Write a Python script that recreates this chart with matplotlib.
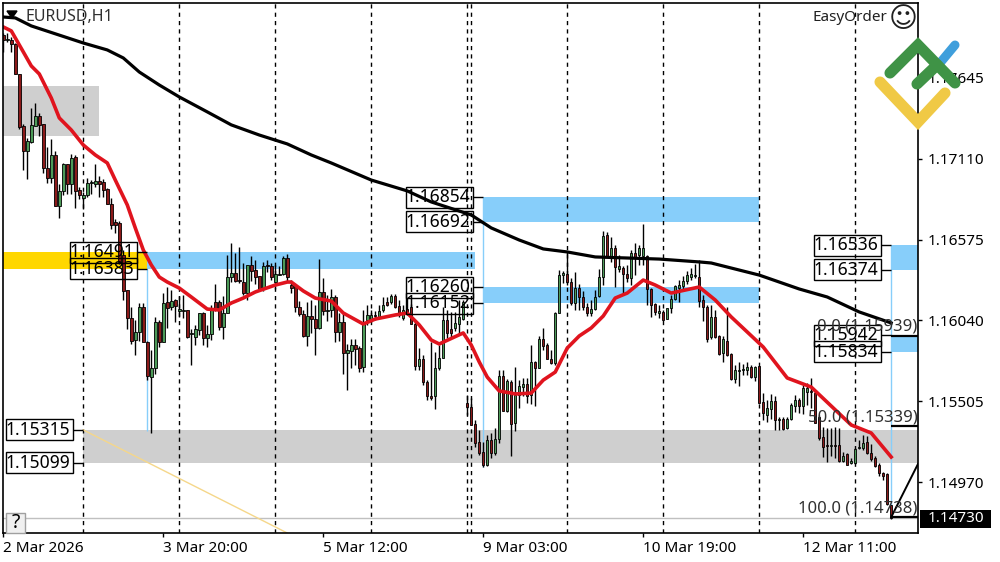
import numpy as np
import matplotlib
matplotlib.use("Agg")
from matplotlib import pyplot as plt
from matplotlib.lines import Line2D
from matplotlib.patches import Rectangle
from matplotlib.transforms import IdentityTransform

# all prices are kept as points above 1.15000
base = 1.15

opens = [2929,2896,2896,2870,2671,2327,2161,2221,2327,2393,
2340,2049,1983,2135,1797,1897,2075,1943,2122,1903,
1850,1870,1950,1943,1963,1956,1910,1811,1691,1685,
1473,1241,1056,910,963,1129,897,665,725,1029,
897,1162,1129,1175,1102,1102,1109,950,930,976,
1089,923,950,1162,1162,996,1089,1327,1354,1307,
1294,1221,1407,1374,1334,1248,1407,1400,1294,1340,
1347,1453,1274,1268,1129,1082,937,1069,1049,990,
1228,1102,1109,1195,963,1029,824,838,877,857,
731,1043,1043,1076,1063,1109,1162,1162,1201,1135,
1056,1115,1129,1016,738,784,632,539,539,725,
791,1043,983,990,1016,1049,493,467,354,235,
169,83,248,162,255,672,440,632,361,546,
599,619,546,765,725,917,877,784,758,1089,
1340,1347,1294,1155,1254,1195,1129,1089,1115,1201,
1327,1605,1466,1519,1380,1387,1347,1321,1486,1473,
1466,1466,1248,1148,1089,1096,1049,1122,1182,1254,
1268,1301,1327,1334,1327,1175,1129,930,1063,937,
824,904,818,652,705,712,712,731,665,738,
500,414,453,506,381,387,328,387,473,513,
473,566,573,559,401,268,215,208,215,215,
109,155,96,96,195,195,235,162,129,83,
30,23,-182]

highs = [2943,2943,2916,2876,2671,2340,2247,2446,2479,2413,
2340,2188,2241,2161,1943,2082,2075,2141,2135,1923,
1890,1983,1969,2075,1996,1976,1916,1850,1711,1700,
1506,1241,1129,1043,1155,1155,904,844,1063,1043,
1221,1261,1241,1182,1201,1208,1109,983,1010,1089,
1096,1010,1142,1281,1175,1201,1473,1552,1486,1526,
1420,1407,1466,1440,1334,1427,1440,1420,1407,1400,
1466,1480,1307,1274,1168,1109,1162,1175,1142,1446,
1321,1208,1248,1208,1089,1096,884,917,917,871,
1109,1142,1109,1102,1142,1195,1195,1215,1215,1175,
1142,1188,1148,1043,857,811,645,897,831,877,
1129,1109,1096,1096,1175,1175,546,526,381,314,
235,281,295,328,712,712,652,645,731,645,
659,659,877,771,937,990,890,844,1096,1374,
1367,1493,1321,1360,1281,1235,1155,1175,1241,1380,
1632,1625,1592,1539,1473,1400,1407,1506,1552,1539,
1678,1473,1254,1155,1142,1109,1122,1208,1274,1307,
1334,1367,1387,1413,1440,1208,1142,1142,1109,943,
937,1129,824,745,765,751,765,745,738,738,
559,513,553,539,401,401,401,493,546,526,
612,625,659,579,414,334,328,328,334,328,
169,162,129,195,248,281,275,222,142,96,
36,30,-182]

lows = [2817,2883,2817,2671,2307,2036,1976,2214,2327,2261,
2016,1950,1950,1797,1718,1870,1877,1877,1784,1844,
1777,1857,1877,1923,1857,1857,1811,1645,1619,1413,
1175,983,884,811,904,897,645,295,685,864,
897,990,1109,1029,1063,1056,923,745,877,943,
877,864,910,1102,976,917,1089,1294,1294,1287,
1208,1175,1301,1281,1241,1235,1360,1307,1248,1340,
1340,1294,1221,1096,1069,930,871,957,811,983,
1076,1036,1063,897,904,685,579,725,745,698,
698,1010,1029,1043,1056,1096,1135,1148,1122,1063,
1043,1076,1016,712,712,612,513,513,453,712,
791,923,923,970,943,1043,414,347,202,149,
69,76,129,149,228,440,434,142,308,460,
539,493,487,473,725,844,784,751,745,1089,
1287,1274,1142,1109,1109,1109,1069,1069,1109,1195,
1274,1466,1427,1261,1360,1221,1294,1274,1340,1407,
1407,1142,1063,1076,1056,1043,1049,1089,1175,1162,
1235,1281,1307,1321,1129,1036,897,917,923,811,
765,804,645,625,606,679,679,659,639,493,
381,367,387,314,314,314,321,381,434,427,
420,480,460,361,248,136,103,142,129,103,
103,83,89,89,189,182,155,109,69,11,
-17,-182,-275]

closes = [2896,2903,2870,2671,2320,2161,2228,2334,2393,2334,
2049,1983,2135,1797,1897,2075,1943,2115,1897,1870,
1870,1950,1956,1963,1943,1903,1811,1672,1672,1427,
1235,1056,904,963,1129,897,672,725,1029,897,
1155,1122,1168,1135,1115,1109,930,957,983,1089,
923,950,1109,1109,996,1089,1327,1354,1301,1301,
1221,1407,1367,1327,1248,1400,1400,1327,1347,1347,
1453,1327,1254,1129,1082,937,1069,1049,990,1228,
1102,1109,1195,963,1029,824,844,877,851,725,
1023,1076,1076,1069,1102,1142,1142,1201,1129,1076,
1109,1089,1016,738,784,632,539,526,725,791,
1043,957,957,1023,1063,1162,467,347,228,162,
83,248,162,255,672,440,639,354,546,606,
619,539,765,725,917,871,784,758,1089,1340,
1354,1294,1155,1254,1195,1129,1089,1115,1195,1327,
1599,1466,1519,1393,1400,1347,1321,1486,1460,1519,
1519,1248,1142,1096,1102,1043,1122,1182,1268,1274,
1301,1340,1347,1340,1168,1129,917,1063,930,818,
917,811,652,712,712,718,731,665,731,493,
427,460,506,381,387,321,387,480,513,473,
592,592,566,361,261,202,208,215,208,109,
142,83,109,189,202,228,162,122,76,30,
11,-175,-270]

red_idx = [0,2,5,7,9,12,14,17,20,23,26,28,31,33,35,37,39,41,44,47,49,51,54,57,60,63,68,71,72,75,78,82,85,90,93,98,101,
           104,107,109,115,117,119,121,124,127,128,132,135,138,141,144,147,150,153,156,160,163,167,174,178,182,190,196,202,212,217,222]
red_ma = [2982,2956,2817,2724,2671,2512,2380,2300,2201,2135,2082,1969,1804,1652,1506,1407,1327,1294,1254,1195,1155,1115,1109,1155,1188,1228,1274,1294,1294,1235,1188,1168,1089,1016,1049,1076,1089,
          1010,910,884,957,877,765,665,573,559,553,559,645,698,857,937,990,1069,1188,1221,1307,1274,1221,1261,1175,1063,864,659,599,348,295,136]
black_idx = [0,3,7,20,26,30,34,39,44,51,57,64,71,77,82,92,101,107,117,122,129,135,141,148,164,174,177,189,199,206,214,222]
black_ma = [3048,3042,2989,2876,2830,2777,2684,2598,2519,2420,2334,2267,2208,2135,2082,1969,1897,1824,1738,1652,1572,1513,1493,1460,1446,1427,1420,1340,1248,1195,1096,1023]

y_ticks = [1.17645, 1.17110, 1.16575, 1.16040, 1.15505, 1.14970]
x_tick_idx = [0, 40, 80, 120, 160, 200]
x_tick_labels = ["2 Mar 2026", "3 Mar 20:00", "5 Mar 12:00", "9 Mar 03:00", "10 Mar 19:00", "12 Mar 11:00"]
separators = [20, 44, 68, 92, 116, 117, 141, 165, 189, 213]

# zones: start bar, end bar, top price, bottom price
gray_zones = [(-1, 24, 1.17592, 1.17261), (20, 240, 1.15315, 1.15099)]
gold_zones = [(-1, 36, 1.16491, 1.16383)]
blue_zones = [(36, 118, 1.16491, 1.16383), (120, 189, 1.16854, 1.16692), (120, 189, 1.16260, 1.16152),
              (222, 240, 1.16536, 1.16374), (222, 240, 1.15942, 1.15834)]
# boxed level labels: zone edge bar, price
level_labels = [(36, 1.16491), (36, 1.16383), (20, 1.15315), (20, 1.15099), (120, 1.16854), (120, 1.16692),
                (120, 1.16260), (120, 1.16152), (222, 1.16536), (222, 1.16374), (222, 1.15942), (222, 1.15834)]
fib_levels = [("0.0", 1.15939), ("50.0", 1.15339), ("100.0", 1.14738)]
last_price = 1.14730

opens = base + np.array(opens) / 1e5
highs = base + np.array(highs) / 1e5
lows = base + np.array(lows) / 1e5
closes = base + np.array(closes) / 1e5
red_ma = base + np.array(red_ma) / 1e5
black_ma = base + np.array(black_ma) / 1e5
idx = np.arange(len(opens))

plt.rcParams["font.family"] = ["Noto Sans", "DejaVu Sans"]
fig = plt.figure(figsize=(10, 5.62), dpi=100, facecolor="white")
ax = fig.add_axes([2.7 / 1000, 1 - 533 / 562, (918 - 2.7) / 1000, (533 - 2.5) / 562])
ax.set_xlim(-0.15, 228.7)
ax.set_ylim(base - 367 / 1e5, base + 3144 / 1e5)

for x0, x1, top, bot in gray_zones:
    ax.add_patch(Rectangle((x0, bot), x1 - x0, top - bot, fc="#cfcfcf", ec="none", zorder=1))
for x0, x1, top, bot in gold_zones:
    ax.add_patch(Rectangle((x0, bot), x1 - x0, top - bot, fc="#ffd700", ec="none", zorder=1))
for x0, x1, top, bot in blue_zones:
    ax.add_patch(Rectangle((x0, bot), x1 - x0, top - bot, fc="#87cefa", ec="none", zorder=1))

# thin zone stems
ax.vlines([36, 120, 222], [1.15305, 1.15069, 1.14738], [1.16383, 1.16854, 1.16536], color="#87cefa", lw=1, zorder=1.5)

ax.axhline(last_price, color="#c0c0c0", lw=1, zorder=1.5)
ax.vlines(separators, *ax.get_ylim(), color="black", lw=1, linestyles=(0, (3, 3)), zorder=2)

# trend line going off the bottom
ax.plot([20, 71], [1.15315, 1.14633], color="#f5d78a", lw=1, zorder=2)

ax.vlines(idx, lows, highs, color="black", lw=1, zorder=3)
up = closes >= opens
ax.bar(idx[up], (closes - opens)[up], bottom=opens[up], width=0.62, color="#4c9a58", edgecolor="black", lw=0.6, zorder=4)
ax.bar(idx[~up], (opens - closes)[~up], bottom=closes[~up], width=0.62, color="#8b1a1a", edgecolor="black", lw=0.6, zorder=4)

ax.plot(black_idx, black_ma, color="black", lw=2.3, zorder=5, solid_joinstyle="round")
ax.plot(red_idx, red_ma, color="#e0141e", lw=2.6, zorder=5, solid_joinstyle="round")

box_h = 0.00139
for edge, price in level_labels:
    ax.hlines(price, edge - 2.5, edge, color="black", lw=1, zorder=6)
    ax.add_patch(Rectangle((edge - 19.2, price - box_h / 2), 16.7, box_h, fc="none", ec="black", lw=1, zorder=7))
    ax.text(edge - 3.2, price, f"{price:.5f}", ha="right", va="center", fontsize=12.6, color="black", zorder=7)

# fibo levels
for name, price in fib_levels:
    ax.hlines(price, 222, 240, color="black", lw=1.6, zorder=6)
    ax.text(228.6, price + 0.00058, f"{name} ({price:.5f})", ha="right", va="center", fontsize=12, color="#303030", zorder=7)
ax.plot([222, 228.7], [1.14738, 1.15090], color="black", lw=1.4, zorder=6)

ax.text(0.025, 0.972, "EURUSD,H1", transform=ax.transAxes, ha="left", va="center", fontsize=11.5, color="#303030", zorder=8)
ax.text(0.966, 0.972, "EasyOrder", transform=ax.transAxes, ha="right", va="center", fontsize=11, color="#202020", zorder=8)
ax.text(0.9835, 0.9695, "\u263a", transform=ax.transAxes, ha="center", va="center", fontsize=20, family="DejaVu Sans", color="#202020", zorder=8)

ax.set_xticks(x_tick_idx)
ax.set_xticklabels(x_tick_labels, ha="left", fontsize=11, color="black")
ax.yaxis.tick_right()
ax.set_yticks(y_ticks)
ax.set_yticklabels([f"{v:.5f}" for v in y_ticks], fontsize=11, color="black")
ax.tick_params(axis="x", length=3, width=1, pad=3)
ax.tick_params(axis="y", length=3, width=1, pad=4)
for s in ax.spines.values():
    s.set_linewidth(1.2)
    s.set_zorder(9)

# things placed on the screen rather than on the scales
H = 562
tr = IdentityTransform()


def scr(xs, ys, color, lw, **kw):
    fig.add_artist(Line2D(xs, [H - y for y in ys], transform=tr, color=color, lw=lw, **kw))


fig.add_artist(Rectangle((920, H - 528), 71, 18, transform=tr, fc="black", ec="none", zorder=4))
fig.text(927.5 / 1000, 1 - 519 / H, f"{last_price:.5f}", ha="left", va="center", fontsize=11, color="white", zorder=5)

fig.add_artist(plt.Polygon([(7, H - 11), (17, H - 11), (12, H - 18)], closed=True, transform=tr, fc="black", ec="black"))
fig.add_artist(Rectangle((6, H - 533), 19, 20, transform=tr, fc="#f0f0f0", ec="#a0a0a0", lw=1))
fig.text(15.5 / 1000, 1 - 523 / H, "?", ha="center", va="center", fontsize=14, color="black")

scr([940, 955], [63, 45], "#3f9fdc", 6.5, solid_capstyle="round")
scr([880, 918, 945], [82, 122, 93], "#f0c945", 8, solid_capstyle="round", solid_joinstyle="miter")
scr([890, 918, 955], [73, 45, 83], "#3f9346", 8, solid_capstyle="round", solid_joinstyle="miter")
scr([917, 937], [84, 65], "#3f9346", 8, solid_capstyle="round")

fig.savefig("out.png", dpi=100, facecolor="white")
